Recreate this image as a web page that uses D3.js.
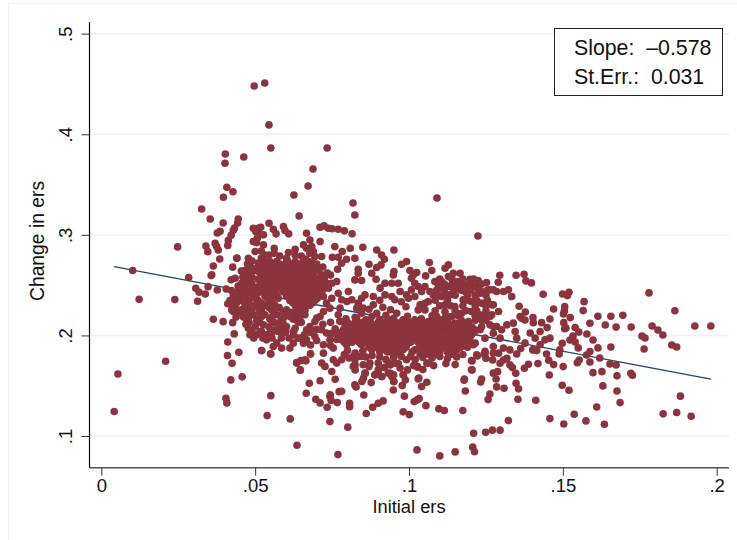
<!DOCTYPE html>
<html><head><meta charset="utf-8">
<script src="https://cdn.jsdelivr.net/npm/d3@7/dist/d3.min.js"></script>
<style>html,body{margin:0;padding:0;background:#fff}svg{display:block}text{font-family:"Liberation Sans",Arial,sans-serif;fill:#111}</style>
</head><body><div id="chart"></div>
<script>
const xTicks=[0,.05,.1,.15,.2], xTickLabels=["0",".05",".1",".15",".2"];
const yTicks=[.1,.2,.3,.4,.5], yTickLabels=[".1",".2",".3",".4",".5"];
const lineX=[.0042,.1981], lineY=[.2684,.1565];
const slopeLabel="Slope:  \u20130.578", seLabel="St.Err.:  0.031";
const outerLeft=[[.0403,.3804],[.0402,.3712],[.0463,.3774],[.0408,.3473],[.0428,.3429],[.0397,.3374],[.0326,.3257],[.0354,.3158],[.0396,.3118],[.0445,.3158],[.0443,.3118],[.0433,.3068],[.0429,.3045],[.0422,.2995],[.0413,.2945],[.0411,.2895],[.0386,.3035],[.0377,.3018],[.0248,.2880],[.0340,.2889],[.0346,.2833],[.0370,.2916],[.0375,.2883],[.0380,.2850],[.0385,.2760],[.0441,.2770],[.0364,.2691],[.0102,.2645],[.0123,.2360],[.0239,.2356],[.0313,.2340],[.0284,.2575],[.0357,.2595],[.0307,.2469],[.0318,.2429],[.0338,.2412],[.0347,.2485],[.0377,.2452],[.0406,.2462],[.0364,.2161],[.0396,.2137],[.0427,.2127],[.0432,.2015],[.0411,.1935],[.0447,.1833],[.0410,.1800],[.0425,.1723],[.0209,.1743],[.0054,.1617],[.0042,.1243],[.0421,.1558],[.0458,.1588],[.0405,.1376],[.0408,.1329],[.0427,.2679],[.0359,.2603],[.0422,.2553],[.0435,.2569],[.0423,.2447],[.0411,.2315],[.0429,.2238],[.0438,.2182],[.0462,.2182],[.0460,.2255],[.0440,.2768]];
const outerTop=[[.0497,.4480],[.0531,.4510],[.0545,.4093],[.0551,.3864],[.0734,.3864],[.0688,.3655],[.0672,.3486],[.0626,.3396],[.0818,.3316],[.0824,.3197],[.1091,.3367],[.1224,.2989],[.0643,.3188],[.0545,.3116],[.0494,.3066],[.0510,.3066],[.0518,.3076],[.0502,.3033],[.0527,.3000],[.0514,.3010],[.0507,.2967],[.0559,.3056],[.0568,.3010],[.0592,.3083],[.0597,.3043],[.0609,.3010],[.0667,.3016],[.0711,.3076],[.0724,.3089],[.0738,.3066],[.0750,.3060],[.0770,.3055],[.0790,.3040],[.0815,.3010]];
const outerBottom=[[.0551,.1401],[.0539,.1203],[.0614,.1170],[.0636,.0908],[.0521,.1849],[.0551,.1816],[.0647,.1654],[.0635,.1730],[.0649,.1750],[.0665,.1747],[.0680,.1816],[.0676,.1525],[.0711,.1550],[.0666,.1425],[.0697,.1365],[.0711,.1329],[.0734,.1286],[.0743,.1143],[.0743,.1392],[.0769,.0815],[.1026,.0862],[.1100,.0802],[.1150,.0842],[.0801,.1088],[.0861,.1223],[.0882,.1286],[.0900,.1326],[.0916,.1349],[.0981,.1240],[.1001,.1213],[.1017,.1342],[.1027,.1359],[.1033,.1372],[.1055,.1302],[.1097,.1270],[.1115,.1253],[.0767,.1332],[.0807,.1326],[.0807,.1292],[.0773,.1441],[.0781,.1445],[.0853,.1408],[.0824,.1508],[.0828,.1488],[.0877,.1531],[.0949,.1458],[.0985,.1396],[.0978,.1501],[.0951,.1541],[.1041,.1491],[.1058,.1535],[.1030,.1567],[.1179,.1555],[.1183,.1448],[.1175,.1253],[.1233,.1538],[.1283,.1567],[.1285,.1488],[.1309,.1475],[.1263,.1418],[.1257,.1362],[.1348,.1525],[.1356,.1469],[.1354,.1366],[.1412,.1356],[.1323,.1153],[.1296,.1058],[.1271,.1058],[.1249,.1038],[.1210,.1028],[.1207,.0889],[.1213,.0844]];
const outerRight=[[.1456,.1607],[.1498,.1505],[.1520,.1455],[.1630,.1498],[.1676,.1448],[.1686,.1332],[.1882,.1396],[.1826,.1220],[.1870,.1233],[.1917,.1196],[.1610,.1289],[.1635,.1117],[.1575,.1150],[.1537,.1217],[.1503,.1120],[.1458,.1173],[.1598,.1630],[.1627,.1640],[.1721,.1624],[.1726,.1604],[.1295,.2598],[.1290,.2529],[.1348,.2598],[.1374,.2608],[.1380,.2542],[.1398,.2522],[.1436,.2410],[.1499,.2412],[.1515,.2396],[.1520,.2429],[.1569,.2336],[.1566,.2247],[.1470,.2263],[.1506,.2286],[.1505,.2244],[.1502,.2214],[.1524,.2177],[.1358,.2290],[.1378,.2233],[.1361,.2187],[.1377,.2154],[.1403,.2177],[.1404,.2127],[.1431,.2127],[.1458,.2164],[.1449,.2078],[.1503,.2127],[.1506,.2067],[.1540,.2078],[.1588,.2121],[.1498,.1922],[.1540,.1935],[.1550,.1876],[.1490,.1856],[.1488,.1816],[.1577,.1806],[.1588,.1839],[.1553,.1756],[.1547,.1729],[.1447,.1816],[.1454,.1753],[.1470,.1710],[.1419,.1720],[.1501,.1690],[.1388,.1714],[.1375,.1673],[.1347,.1624],[.1328,.1707],[.1336,.1680],[.1288,.1640],[.1205,.1746],[.1205,.1657],[.1296,.1724],[.1307,.1756],[.1318,.1773],[.1222,.1796],[.1244,.1816],[.1250,.1773],[.1272,.1756],[.1363,.1869],[.1402,.1856],[.1415,.1849],[.1328,.1856],[.1350,.1816],[.1780,.2423],[.1614,.2191],[.1656,.2191],[.1695,.2201],[.1638,.2103],[.1673,.2083],[.1722,.2083],[.1790,.2093],[.1809,.2053],[.1757,.1994],[.1767,.1974],[.1764,.1865],[.1825,.2004],[.1864,.2245],[.1929,.2093],[.1981,.2093],[.1854,.1905],[.1870,.1885],[.1656,.1885],[.1598,.1955],[.1614,.1876],[.1552,.2033],[.1578,.2014],[.1533,.1994],[.1510,.2073],[.1523,.1955],[.1588,.1736],[.1620,.1776],[.1653,.1716],[.1676,.1598],[.1673,.1706],
[.1231,.2420],[.1263,.2453],[.1285,.2436],[.1307,.2436],[.1323,.2453],[.1334,.2387],[.1242,.2320],[.1274,.2304],[.1291,.2238],[.1269,.2205],[.1236,.2155],[.1263,.2105],[.1285,.2089],[.1301,.2056],[.1274,.2022],[.1296,.1973],[.1274,.1890],[.1307,.1874],[.1247,.1973],[.1215,.1923],[.1231,.2056],[.1318,.2105],[.1345,.2039],[.1339,.2122],[.1366,.2171],[.1394,.2023],[.1410,.1973],[.1426,.2039],[.1377,.1923],[.1350,.1973],[.1426,.1907],[.1404,.1857],[.1458,.1973],[.1442,.1956],[.1291,.1824],[.1247,.1824],[.1198,.2089],[.1182,.1940]];
const blobTop=[[.0494,.2933],[.0505,.2923],[.0527,.2900],[.0562,.2867],[.0562,.2817],[.0500,.2834],[.0532,.2800],[.0678,.2949],[.0711,.2933],[.0657,.2900],[.0684,.2883],[.0630,.2857],[.0608,.2824],[.0678,.2817],[.0694,.2784],[.0716,.2784],[.0602,.2767],[.0630,.2800],[.0478,.2767],[.0667,.2867],[.0689,.2834]];
const midTop=[[.0759,.2883],[.0783,.2834],[.0809,.2867],[.0850,.2877],[.0895,.2850],[.0951,.2850],[.0751,.2777],[.0770,.2777],[.0824,.2767],[.0797,.2757],[.0781,.2718],[.0768,.2658],[.0870,.2708],[.0911,.2800],[.0920,.2757],[.0909,.2701],[.0895,.2675],[.0835,.2658],[.0824,.2552],[.0846,.2546],[.0835,.2618],[.0879,.2618],[.0893,.2559],[.0992,.2734],[.0976,.2708],[.1066,.2724],[.0951,.2635],[.0949,.2602],[.1003,.2645],[.1025,.2625],[.1054,.2592],[.1074,.2645],[.1117,.2668],[.1128,.2701]];
const upperRight=[[.1144,.2618],[.1166,.2618],[.1198,.2559],[.1225,.2546],[.1252,.2526],[.1274,.2453],[.1236,.2436],[.1215,.2486],[.1187,.2503],[.1160,.2536],[.1128,.2585],[.1106,.2536],[.1084,.2536],[.1100,.2470],[.1128,.2486],[.1155,.2470],[.1182,.2436],[.1106,.2387],[.1133,.2403],[.1176,.2354],[.1203,.2337],[.1236,.2320],[.1268,.2304],[.1117,.2304],[.1079,.2403],[.1149,.2287],[.1203,.2238],[.1171,.2221],[.1231,.2205],[.1263,.2188],[.1117,.2238],[.1090,.2188],[.1138,.2188],[.1106,.2155],[.1149,.2122],[.1193,.2138],[.1236,.2089],[.1274,.2089]];
const midChain=[[.0922,.2519],[.0944,.2519],[.0965,.2519],[.0906,.2470],[.0922,.2403],[.0944,.2387],[.0971,.2436],[.0954,.2354],[.0992,.2403],[.1008,.2453],[.1019,.2519],[.1030,.2486],[.1052,.2486],[.1068,.2436],[.1008,.2569],[.1014,.2602],[.1036,.2304],[.1052,.2320],[.1063,.2337],[.1030,.2254],[.1052,.2254],[.0998,.2370],[.1041,.2436],[.1019,.2387],[.0960,.2221],[.0981,.2155],[.1019,.2155],[.1063,.2138],[.1079,.2188],[.0938,.2155]];
const leftStrand=[[.0749,.2519],[.0765,.2536],[.0738,.2470],[.0770,.2420],[.0803,.2436],[.0749,.2370],[.0732,.2321],[.0781,.2354],[.0798,.2337],[.0814,.2354],[.0743,.2271],[.0776,.2271],[.0770,.2205],[.0722,.2238],[.0711,.2188],[.0700,.2172],[.0694,.2138],[.0722,.2387],[.0846,.2370],[.0835,.2321],[.0857,.2403],[.0884,.2387],[.0884,.2304],[.0846,.2221],[.0895,.2221],[.0830,.2271],[.0851,.2271]];
const coreXs=[[.0532,.0548,.0570,.0602,.0630,.0657,.0684],[.0483,.0516,.0559,.0586,.0613,.0640,.0667,.0694],[.0467,.0505,.0543,.0575,.0602,.0630,.0653,.0678,.0705],[.0478,.0527,.0559,.0592,.0617,.0640,.0664,.0689,.0716],[.0472,.0510,.0548,.0577,.0602,.0627,.0651,.0676,.0700],[.0456,.0489,.0532,.0564,.0592,.0617,.0640,.0664,.0689,.0714,.0732],[.0467,.0505,.0548,.0581,.0606,.0630,.0653,.0678,.0703],[.0451,.0483,.0521,.0559,.0592,.0617,.0640,.0664,.0689,.0711],[.0429,.0462,.0494,.0532,.0564,.0602,.0630,.0657,.0684],[.0418,.0451,.0478,.0510,.0548,.0613,.0640,.0667,.0694],[.0429,.0467,.0500,.0532,.0564,.0630,.0651,.0678],[.0424,.0456,.0489,.0521,.0554,.0602,.0640,.0662],[.0462,.0494,.0532,.0570,.0602,.0630,.0662],[.0472,.0510,.0548,.0586,.0624]];
const coreYs=[.2734,.2685,.2645,.2602,.2559,.2519,.2476,.2433,.2393,.2347,.2301,.2254,.2205,.2162];
const coreFillXs=[[.0540,.0580,.0615,.0645,.0670],[.0495,.0530,.0570,.0600,.0625,.0652,.0680,.0705],[.0486,.0515,.0550,.0583,.0610,.0635,.0658,.0685],[.0460,.0490,.0535,.0565,.0590,.0615,.0640,.0665,.0690,.0712],[.0480,.0520,.0555,.0585,.0610,.0633,.0658,.0682,.0708],[.0475,.0515,.0540,.0572,.0598,.0623,.0647,.0670,.0695,.0722],[.0460,.0495,.0530,.0565,.0600,.0625,.0648,.0672,.0696,.0720],[.0440,.0472,.0505,.0540,.0570,.0608,.0637,.0662,.0690],[.0440,.0470,.0500,.0540,.0575,.0620,.0648,.0675,.0702],[.0440,.0480,.0520,.0555,.0622,.0660,.0688],[.0435,.0475,.0510,.0545,.0578,.0635,.0655],[.0450,.0480,.0515,.0560,.0590,.0620,.0650],[.0480,.0520,.0555,.0595,.0615,.0645],[.0480,.0515,.0560,.0590,.0640,.0650],[.0490,.0520,.0550,.0575,.0600,.0625],[.0495,.0525,.0555,.0585,.0610,.0650]];
const coreFillYs=[.2710,.2665,.2622,.2580,.2540,.2498,.2455,.2412,.2370,.2325,.2278,.2230,.2185,.2130,.2040,.1975];
const underBlob=[[.0478,.2072],[.0483,.2006],[.0505,.2006],[.0537,.2006],[.0564,.2056],[.0581,.2072],[.0537,.1956],[.0570,.1923],[.0559,.1890],[.0586,.1874],[.0613,.1874],[.0624,.1923],[.0630,.2072],[.0640,.1973],[.0667,.1956],[.0657,.1923],[.0678,.2089],[.0667,.2056],[.0694,.1990],[.0716,.2056],[.0732,.2023],[.0722,.1907],[.0743,.1956],[.0722,.1824],[.0754,.1874],[.0716,.1725],[.0727,.1692],[.0754,.1758],[.0781,.1758],[.0749,.1642],[.0765,.1725],[.0635,.1725],[.0662,.1758],[.0680,.1817],[.0646,.1658],[.0521,.1850],[.0550,.1817],[.0500,.2089],[.0527,.2105],[.0575,.2122],[.0602,.2089],[.0554,.2023],[.0516,.2039],[.0470,.2110],[.0505,.2145],[.0545,.2085],[.0595,.2030],[.0625,.2005],[.0660,.2005],[.0680,.2030],[.0700,.2060],[.0720,.2110],[.0745,.2130],[.0760,.2065],[.0750,.2020],[.0765,.1960],[.0745,.1900],[.0700,.1950],[.0680,.1905]];
const lowerXs=[[.0792,.0814,.0835,.0862,.0884,.0911,.0933,.0960,.0987,.1008,.1030,.1057,.1079,.1106,.1133,.1160,.1187],[.0787,.0808,.0830,.0851,.0878,.0900,.0922,.0949,.0971,.0992,.1019,.1041,.1063,.1090,.1117,.1138,.1166,.1193,.1214],[.0770,.0797,.0819,.0846,.0868,.0889,.0916,.0938,.0960,.0981,.1008,.1030,.1052,.1079,.1100,.1128,.1149,.1176,.1203],[.0781,.0808,.0830,.0857,.0878,.0906,.0927,.0949,.0971,.0998,.1019,.1046,.1068,.1090,.1117,.1138,.1166,.1187],[.0797,.0846,.0873,.0900,.0922,.0944,.0965,.0992,.1041,.1063,.1084,.1111,.1133,.1160,.1182,.1209],[.0879,.0911,.0938,.0960,.0981,.1019,.1052,.1074,.1101,.1128,.1155],[.0949,.0971,.1036,.1063,.1090,.1138]];
const lowerYs=[.2105,.2056,.2006,.1956,.1907,.1857,.1814];
const lowerFillXs=[[.0800,.0825,.0850,.0875,.0900,.0925,.0950,.0975,.1000,.1020,.1045,.1070,.1095,.1120,.1170],[.0795,.0820,.0842,.0868,.0890,.0912,.0938,.0960,.0982,.1005,.1028,.1052,.1072,.1098,.1125,.1150,.1175,.1205],[.0780,.0805,.0825,.0855,.0875,.0898,.0928,.0945,.0968,.0990,.1015,.1038,.1060,.1085,.1108,.1132,.1158,.1185,.1212],[.0775,.0802,.0825,.0850,.0872,.0895,.0920,.0942,.0965,.0988,.1012,.1035,.1058,.1082,.1105,.1130,.1155,.1178,.1198],[.0790,.0815,.0838,.0862,.0885,.0912,.0932,.0955,.0985,.1005,.1030,.1052,.1075,.1098,.1125,.1150,.1172,.1200],[.0870,.0895,.0925,.0948,.0970,.0990,.1035,.1060,.1085,.1108,.1140,.1168,.1190],[.0905,.0930,.0960,.1010,.1045,.1072,.1100,.1125,.1150]];
const lowerFillYs=[.2130,.2082,.2032,.1982,.1932,.1882,.1835];
const bandFillXs=[[.1100,.1140,.1175,.1210],[.1095,.1115,.1140,.1170,.1200,.1235],[.1090,.1115,.1145,.1170,.1200,.1225,.1255],[.1095,.1120,.1150,.1190,.1215,.1250],[.1085,.1125,.1190,.1220,.1255],[.1100,.1135,.1175,.1215,.1250],[.1085,.1150,.1185,.1220,.1250],[.1075,.1120,.1160,.1215,.1245],[.1090,.1125,.1170,.1215,.1250]];
const bandFillYs=[.2560,.2510,.2450,.2400,.2350,.2295,.2245,.2195,.2150];
const lowerTopFringe=[[.0795,.2165],[.0825,.2180],[.0860,.2155],[.0880,.2190],[.0905,.2160],[.0925,.2200],[.0950,.2170],[.0995,.2190],[.1040,.2165],[.0870,.2260],[.0915,.2280],[.0940,.2255],[.0990,.2285],[.0905,.2350],[.0975,.2335],[.0830,.2165],[.0775,.2140],[.0900,.2120]];
const lowerBottomFringe=[[.0800,.1850],[.0825,.1825],[.0850,.1845],[.0835,.1790],[.0860,.1785],[.0880,.1800],[.0905,.1785],[.0925,.1760],[.0950,.1780],[.0975,.1790],[.1005,.1790],[.1020,.1760],[.1045,.1780],[.1075,.1775],[.1100,.1790],[.1125,.1770],[.1155,.1785],[.1175,.1810],[.0790,.1810],[.0805,.1775],[.0870,.1690],[.0920,.1680],[.0965,.1720],[.1015,.1700],[.1045,.1660],[.1080,.1700],[.1120,.1720],[.1150,.1710]];
const blobUpperFringe=[[.0520,.2840],[.0545,.2800],[.0580,.2790],[.0650,.2790],[.0665,.2760],[.0605,.2740],[.0490,.2740],[.0510,.2720],[.0475,.2710],[.0700,.2710],[.0720,.2680],[.0735,.2620],[.0725,.2560],[.0745,.2600],[.0520,.2770],[.0455,.2640],[.0445,.2490],[.0435,.2420],[.0470,.2210],[.0440,.2250]];
const belowBlob=[[.0819,.1791],[.0824,.1758],[.0846,.1791],[.0851,.1708],[.0873,.1725],[.0900,.1658],[.0889,.1609],[.0857,.1625],[.0933,.1725],[.0954,.1725],[.0992,.1758],[.0933,.1625],[.0981,.1609],[.1027,.1692],[.1063,.1725],[.1032,.1576],[.0911,.1592],[.0944,.1592],[.1180,.1566],[.1203,.1751],[.1220,.1807],[.1247,.1841],[.1274,.1824],[.1203,.1658],[.1274,.1625],[.1236,.1566],[.0900,.1725],[.0971,.1675],[.0819,.1692],[.0760,.1565],[.0825,.1707],[.0825,.1657],[.0858,.1624],[.0852,.1575],[.0847,.1542],[.0901,.1657],[.0890,.1608],[.0912,.1591],[.0939,.1707],[.0939,.1624],[.0950,.1608],[.0950,.1542],[.0995,.1657],[.0982,.1608],[.0988,.1558],[.1028,.1684],[.1058,.1724],[.0744,.1409],[.0747,.1353]];
const rows=(xs,ys)=>xs.flatMap((r,i)=>r.map(v=>[v,ys[i]]));
const allPoints=[...outerLeft,...outerTop,...outerBottom,...outerRight,...blobTop,...midTop,...upperRight,...midChain,...leftStrand,...rows(coreXs,coreYs),...rows(coreFillXs,coreFillYs),...underBlob,...rows(lowerXs,lowerYs),...rows(lowerFillXs,lowerFillYs),...rows(bandFillXs,bandFillYs),...belowBlob,...lowerTopFringe,...lowerBottomFringe,...blobUpperFringe];

const W=737,H=540;
const x=d3.scaleLinear().domain([0,.2]).range([101.3,716.7]);
const y=d3.scaleLinear().domain([.1,.5]).range([436,33.7]);
const svg=d3.select("#chart").append("svg").attr("width",W).attr("height",H);
const plotL=89.5,plotR=729,plotT=22,plotB=467.7;
svg.append("path").attr("d",`M8.5,${H+2}V3.5H${W+2}`).attr("fill","none").attr("stroke","#eaf2f3").attr("stroke-width",1);
svg.append("g").selectAll("line").data(yTicks).join("line").attr("x1",plotL).attr("x2",plotR).attr("y1",d=>y(d)).attr("y2",d=>y(d)).attr("stroke","#eaf2f3").attr("stroke-width",1.4);
svg.append("path").datum(lineX.map((v,i)=>[v,lineY[i]])).attr("d",d3.line().x(d=>x(d[0])).y(d=>y(d[1]))).attr("fill","none").attr("stroke","#1a476f").attr("stroke-width",1.4);
svg.append("g").selectAll("circle").data(allPoints).join("circle").attr("cx",d=>x(d[0])).attr("cy",d=>y(d[1])).attr("r",3.8).attr("fill","#8b343d");
const axB=svg.append("g").attr("transform",`translate(0,${plotB})`).call(d3.axisBottom(x).tickValues(xTicks).tickFormat((d,i)=>xTickLabels[i]).tickSize(8).tickPadding(3.5).tickSizeOuter(0));
axB.select(".domain").attr("d",`M${plotL},0H${plotR}`).attr("stroke","#555").attr("stroke-width",1.4);
axB.selectAll("line").attr("stroke","#333");
axB.selectAll("text").attr("font-size",18.5).attr("fill","#111").style("font-family",'"Liberation Sans"');
const axL=svg.append("g").attr("transform",`translate(${plotL},0)`).call(d3.axisLeft(y).tickValues(yTicks).tickFormat((d,i)=>yTickLabels[i]).tickSize(8).tickSizeOuter(0));
axL.select(".domain").attr("d",`M0,${plotT}V${plotB}`).attr("stroke","#111").attr("stroke-width",1.2);
axL.selectAll("line").attr("stroke","#333");
axL.selectAll("text").attr("font-size",18.5).attr("fill","#111").attr("text-anchor","middle").attr("x",0).attr("dy",0).attr("transform","translate(-17.5,0) rotate(-90)").style("font-family",'"Liberation Sans"');
svg.append("text").attr("x",409).attr("y",513).attr("text-anchor","middle").attr("font-size",18.3).text("Initial ers");
svg.append("text").attr("transform","translate(44,241) rotate(-90)").attr("text-anchor","middle").attr("font-size",19.3).text("Change in ers");
svg.append("rect").attr("x",554.5).attr("y",28.5).attr("width",168).attr("height",67).attr("fill","#fff").attr("stroke","#222").attr("stroke-width",1);
svg.append("text").attr("x",574).attr("y",55).attr("font-size",21.3).style("white-space","pre").text(slopeLabel);
svg.append("text").attr("x",574).attr("y",84).attr("font-size",21.3).style("white-space","pre").text(seLabel);
</script></body></html>
